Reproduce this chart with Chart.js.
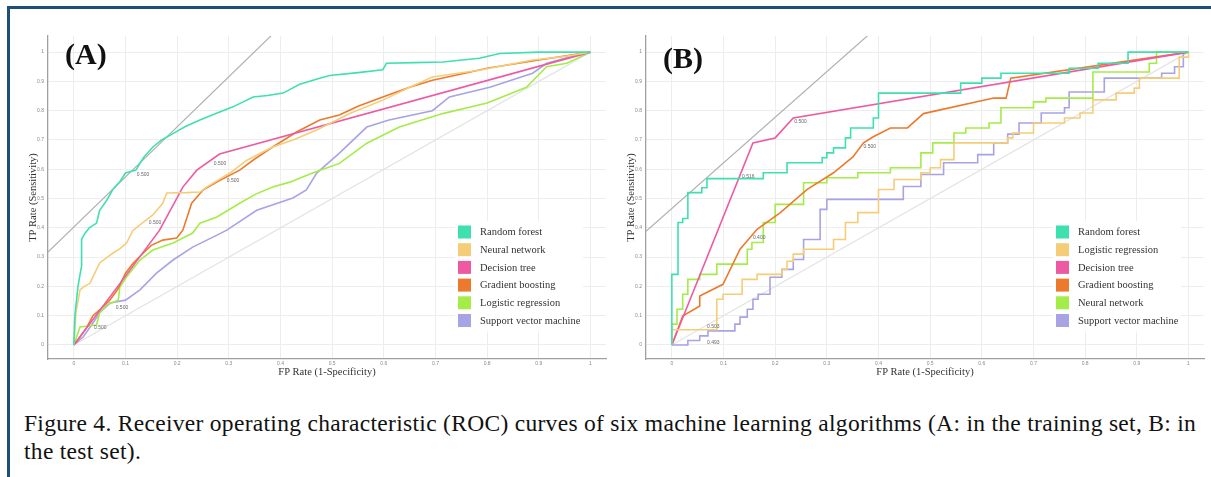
<!DOCTYPE html>
<html>
<head>
<meta charset="utf-8">
<script src="https://cdn.jsdelivr.net/npm/chart.js@4.4.1/dist/chart.umd.min.js"></script>
<style>
  html, body { margin: 0; padding: 0; background: #fff; }
  body { width: 1211px; height: 477px; position: relative; overflow: hidden; }
  .frame-top { position: absolute; left: 7px; top: 6px; width: 1204px; height: 3px; background: #1F4E79; }
  .frame-left { position: absolute; left: 7px; top: 6px; width: 3px; height: 471px; background: #1F4E79; }
  canvas { position: absolute; }
  #chartA { left: 10px; top: 10px; }
  #chartB { left: 608px; top: 10px; }
  .panel { position: absolute; font-family: 'Liberation Serif', 'Times New Roman', serif; font-weight: bold; font-size: 30px; line-height: 30px; color: #111; }
  .caption { position: absolute; left: 24px; top: 409px; font-family: 'Liberation Serif', 'Times New Roman', serif; font-size: 23.5px; letter-spacing: 0.3px; line-height: 28px; color: #111; white-space: nowrap; }
</style>
</head>
<body>
<div class="frame-top"></div>
<div class="frame-left"></div>
<canvas id="chartA" width="600" height="382"></canvas>
<canvas id="chartB" width="600" height="382"></canvas>
<div class="panel" style="left:65px; top:39px;">(A)</div>
<div class="panel" style="left:663px; top:43px;">(B)</div>
<div class="caption">Figure 4. Receiver operating characteristic (ROC) curves of six machine learning algorithms (A: in the training set, B: in<br>the test set).</div>

<script>
// ticks
const xTickVals = [0, 0.1, 0.2, 0.3, 0.4, 0.5, 0.6, 0.7, 0.8, 0.9, 1];
const yTickVals = [0, 0.1, 0.2, 0.3, 0.4, 0.5, 0.6, 0.7, 0.8, 0.9, 1];

// legend order (A: training set, B: test set)
const modelsA = ["Random forest", "Neural network", "Decision tree", "Gradient boosting", "Logistic regression", "Support vector machine"];
const modelsB = ["Random forest", "Logistic regression", "Decision tree", "Gradient boosting", "Neural network", "Support vector machine"];
const palette = ["#3FE0B0", "#F5CD78", "#EE5AA2", "#EC7A2C", "#A4EC48", "#A8A3E4"];

// ---- panel A: ROC points (FPR, TPR)
const rfA_fpr = [0, 0.002, 0.008, 0.015, 0.015, 0.021, 0.03, 0.044, 0.05, 0.064, 0.075, 0.09, 0.10, 0.12, 0.135, 0.153, 0.17, 0.19, 0.215, 0.244, 0.275, 0.308, 0.347, 0.375, 0.405, 0.437, 0.476, 0.495, 0.55, 0.598, 0.605, 0.66, 0.714, 0.785, 0.824, 0.9, 1];
const rfA_tpr = [0, 0.10, 0.20, 0.27, 0.36, 0.38, 0.40, 0.416, 0.46, 0.495, 0.53, 0.56, 0.587, 0.597, 0.64, 0.676, 0.70, 0.72, 0.745, 0.768, 0.79, 0.813, 0.847, 0.852, 0.86, 0.89, 0.911, 0.92, 0.93, 0.94, 0.962, 0.964, 0.966, 0.979, 0.995, 1, 1];

const nnA_fpr = [0, 0.002, 0.004, 0.012, 0.02, 0.031, 0.05, 0.065, 0.076, 0.09, 0.102, 0.114, 0.128, 0.153, 0.172, 0.18, 0.218, 0.244, 0.257, 0.302, 0.335, 0.385, 0.424, 0.47, 0.534, 0.598, 0.65, 0.694, 0.79, 0.888, 0.95, 1];
const nnA_tpr = [0, 0.05, 0.11, 0.188, 0.20, 0.21, 0.28, 0.30, 0.314, 0.33, 0.348, 0.39, 0.41, 0.444, 0.484, 0.519, 0.52, 0.522, 0.539, 0.587, 0.631, 0.676, 0.70, 0.734, 0.79, 0.836, 0.88, 0.915, 0.94, 0.973, 0.985, 1];

const dtA_fpr = [0, 0.1, 0.166, 0.211, 0.238, 0.282, 1];
const dtA_tpr = [0, 0.235, 0.392, 0.539, 0.597, 0.652, 1];

const gbA_fpr = [0, 0.012, 0.025, 0.037, 0.05, 0.07, 0.085, 0.1, 0.115, 0.134, 0.15, 0.172, 0.199, 0.211, 0.228, 0.25, 0.28, 0.321, 0.35, 0.385, 0.431, 0.476, 0.514, 0.55, 0.598, 0.65, 0.694, 0.75, 0.80, 0.90, 1];
const gbA_tpr = [0, 0.027, 0.06, 0.10, 0.12, 0.154, 0.19, 0.245, 0.28, 0.313, 0.34, 0.358, 0.365, 0.392, 0.484, 0.529, 0.56, 0.597, 0.635, 0.676, 0.727, 0.768, 0.785, 0.815, 0.847, 0.88, 0.904, 0.925, 0.945, 0.973, 1];

const lrA_fpr = [0, 0.012, 0.044, 0.05, 0.064, 0.086, 0.089, 0.102, 0.128, 0.153, 0.192, 0.23, 0.244, 0.277, 0.321, 0.352, 0.385, 0.418, 0.462, 0.514, 0.567, 0.63, 0.714, 0.80, 0.876, 0.915, 0.954, 1];
const lrA_tpr = [0, 0.061, 0.068, 0.11, 0.137, 0.153, 0.198, 0.232, 0.29, 0.324, 0.348, 0.382, 0.416, 0.437, 0.484, 0.515, 0.539, 0.556, 0.587, 0.62, 0.689, 0.744, 0.79, 0.826, 0.88, 0.95, 0.962, 1];

const svmA_fpr = [0, 0.018, 0.035, 0.05, 0.07, 0.10, 0.128, 0.16, 0.192, 0.23, 0.277, 0.296, 0.354, 0.424, 0.45, 0.47, 0.514, 0.567, 0.61, 0.694, 0.727, 0.805, 0.888, 0.915, 0.985, 1];
const svmA_tpr = [0, 0.027, 0.07, 0.11, 0.143, 0.153, 0.188, 0.245, 0.29, 0.334, 0.375, 0.392, 0.46, 0.502, 0.529, 0.587, 0.655, 0.744, 0.768, 0.80, 0.847, 0.88, 0.928, 0.962, 0.995, 1];

// tangent line at best cutoff + cutoff labels, panel A
const tanA_x = [-0.05, 0.40];
const tanA_y = [0.317, 1.087];
const cutA_x = [0.122, 0.145, 0.271, 0.296, 0.039, 0.081];
const cutA_y = [0.58, 0.416, 0.618, 0.56, 0.058, 0.126];
const cutA_text = ["0.500", "0.500", "0.500", "0.500", "0.500", "0.500"];

// ---- panel B: ROC points (FPR, TPR)
const rfB_fpr = [0, 0, 0.012, 0.012, 0.021, 0.021, 0.031, 0.031, 0.058, 0.058, 0.068, 0.068, 0.177, 0.177, 0.223, 0.223, 0.291, 0.291, 0.30, 0.30, 0.313, 0.313, 0.336, 0.336, 0.346, 0.346, 0.39, 0.39, 0.40, 0.40, 0.559, 0.559, 0.60, 0.60, 0.637, 0.637, 0.769, 0.769, 0.825, 0.825, 0.883, 0.883, 1];
const rfB_tpr = [0, 0.241, 0.241, 0.418, 0.418, 0.432, 0.432, 0.52, 0.52, 0.537, 0.537, 0.568, 0.568, 0.588, 0.588, 0.622, 0.622, 0.639, 0.639, 0.656, 0.656, 0.673, 0.673, 0.707, 0.707, 0.741, 0.741, 0.775, 0.775, 0.86, 0.86, 0.894, 0.894, 0.911, 0.911, 0.928, 0.928, 0.945, 0.945, 0.962, 0.962, 1, 1];

const lrB_fpr = [0, 0, 0.087, 0.087, 0.099, 0.099, 0.136, 0.136, 0.165, 0.165, 0.213, 0.213, 0.223, 0.223, 0.235, 0.235, 0.255, 0.255, 0.313, 0.313, 0.336, 0.336, 0.36, 0.36, 0.40, 0.40, 0.43, 0.43, 0.482, 0.482, 0.50, 0.50, 0.52, 0.52, 0.546, 0.546, 0.65, 0.65, 0.66, 0.66, 0.70, 0.70, 0.76, 0.76, 0.79, 0.79, 0.815, 0.815, 0.86, 0.86, 0.895, 0.895, 0.905, 0.905, 0.982, 0.982, 1, 1];
const lrB_tpr = [0, 0.052, 0.052, 0.156, 0.156, 0.173, 0.173, 0.224, 0.224, 0.241, 0.241, 0.258, 0.258, 0.286, 0.286, 0.31, 0.31, 0.327, 0.327, 0.36, 0.36, 0.418, 0.418, 0.452, 0.452, 0.531, 0.531, 0.565, 0.565, 0.588, 0.588, 0.605, 0.605, 0.633, 0.633, 0.69, 0.69, 0.707, 0.707, 0.724, 0.724, 0.758, 0.758, 0.775, 0.775, 0.792, 0.792, 0.837, 0.837, 0.86, 0.86, 0.877, 0.877, 0.911, 0.911, 0.983, 0.983, 1];

const dtB_fpr = [0, 0.157, 0.20, 0.235, 1];
const dtB_tpr = [0, 0.69, 0.707, 0.775, 1];

const gbB_fpr = [0, 0.021, 0.054, 0.054, 0.099, 0.132, 0.165, 0.21, 0.262, 0.313, 0.351, 0.371, 0.39, 0.423, 0.456, 0.487, 0.623, 0.647, 0.656, 1];
const gbB_tpr = [0, 0.099, 0.133, 0.167, 0.207, 0.327, 0.395, 0.452, 0.531, 0.588, 0.643, 0.69, 0.711, 0.741, 0.741, 0.79, 0.843, 0.843, 0.911, 1];

const nnB_fpr = [0, 0, 0.01, 0.01, 0.021, 0.021, 0.031, 0.031, 0.054, 0.054, 0.087, 0.087, 0.146, 0.146, 0.155, 0.155, 0.177, 0.177, 0.20, 0.20, 0.255, 0.255, 0.30, 0.30, 0.36, 0.36, 0.423, 0.423, 0.482, 0.482, 0.505, 0.505, 0.546, 0.546, 0.569, 0.569, 0.614, 0.614, 0.637, 0.637, 0.70, 0.70, 0.724, 0.724, 0.815, 0.815, 0.924, 0.924, 0.938, 0.938, 1];
const nnB_tpr = [0, 0.071, 0.071, 0.122, 0.122, 0.173, 0.173, 0.224, 0.224, 0.241, 0.241, 0.276, 0.276, 0.327, 0.327, 0.35, 0.35, 0.418, 0.418, 0.48, 0.48, 0.554, 0.554, 0.571, 0.571, 0.588, 0.588, 0.605, 0.605, 0.656, 0.656, 0.69, 0.69, 0.724, 0.724, 0.741, 0.741, 0.758, 0.758, 0.81, 0.81, 0.83, 0.83, 0.843, 0.843, 0.932, 0.932, 0.962, 0.962, 1, 1];

const svmB_fpr = [0, 0.031, 0.031, 0.054, 0.054, 0.07, 0.07, 0.122, 0.122, 0.132, 0.132, 0.146, 0.146, 0.157, 0.157, 0.167, 0.167, 0.19, 0.19, 0.213, 0.213, 0.235, 0.235, 0.255, 0.255, 0.287, 0.287, 0.30, 0.30, 0.448, 0.448, 0.482, 0.482, 0.526, 0.526, 0.592, 0.592, 0.623, 0.623, 0.65, 0.65, 0.672, 0.672, 0.715, 0.715, 0.76, 0.76, 0.769, 0.769, 0.837, 0.837, 0.948, 0.948, 0.973, 0.973, 0.99, 0.99, 1];
const svmB_tpr = [0, 0, 0.015, 0.015, 0.031, 0.031, 0.048, 0.048, 0.071, 0.071, 0.095, 0.095, 0.122, 0.122, 0.156, 0.156, 0.173, 0.173, 0.231, 0.231, 0.258, 0.258, 0.292, 0.292, 0.36, 0.36, 0.463, 0.463, 0.497, 0.497, 0.541, 0.541, 0.582, 0.582, 0.622, 0.622, 0.65, 0.65, 0.69, 0.69, 0.72, 0.72, 0.758, 0.758, 0.792, 0.792, 0.81, 0.81, 0.864, 0.864, 0.911, 0.911, 0.928, 0.928, 0.95, 0.95, 1, 1];

const tanB_x = [-0.05, 0.40];
const tanB_y = [0.388, 1.089];
const cutB_x = [0.136, 0.068, 0.237, 0.371, 0.157, 0.068];
const cutB_y = [0.575, 0.061, 0.762, 0.677, 0.367, 0.007];
const cutB_text = ["0.516", "0.503", "0.500", "0.500", "0.400", "0.493"];

// chance line
const diag_x = [0, 1];
const diag_y = [0, 1];

const toPoints = (xs, ys) => xs.map((x, i) => ({ x: x, y: ys[i] }));

const overlayPlugin = {
    id: "overlay",
    afterDatasetsDraw(chart, args, opts) {
        const { ctx, chartArea } = chart;
        const xs = chart.scales.x, ys = chart.scales.y;
        ctx.save();
        // cutoff values next to the curves
        ctx.font = '5px "Liberation Sans"';
        ctx.fillStyle = "#666";
        ctx.textBaseline = "middle";
        ctx.textAlign = "left";
        opts.cutX.forEach((cx, i) => {
            ctx.fillText(opts.cutText[i], xs.getPixelForValue(cx), ys.getPixelForValue(opts.cutY[i]));
        });
        // legend inside the plot
        const items = chart.data.datasets.filter(d => d.inLegend);
        const lx = chartArea.left + 410, ly = chartArea.top + 196, step = 17.7;
        ctx.fillStyle = "#fff";
        ctx.fillRect(lx - 3, ly - 11, 128, step * (items.length - 1) + 22);
        ctx.font = '10.5px "Liberation Serif"';
        items.forEach((d, i) => {
            const cy = ly + i * step;
            ctx.fillStyle = d.borderColor;
            ctx.fillRect(lx, cy - 6.5, 13, 13);
            ctx.fillStyle = "#333";
            ctx.fillText(d.label, lx + 22, cy + 0.5);
        });
        ctx.restore();
    }
};

function buildChart(id, names, fprs, tprs, tanX, tanY, cutX, cutY, cutText) {
    const datasets = names.map((n, i) => ({
        label: n,
        data: toPoints(fprs[i], tprs[i]),
        borderColor: palette[i],
        backgroundColor: palette[i],
        borderWidth: 1.6,
        showLine: true,
        pointRadius: 0,
        tension: 0,
        inLegend: true,
        order: i
    }));
    datasets.push({ label: "tangent", data: toPoints(tanX, tanY), borderColor: "#b0b0b0", borderWidth: 1.2, showLine: true, pointRadius: 0, order: 19 });
    datasets.push({ label: "chance", data: toPoints(diag_x, diag_y), borderColor: "#e4e4e4", borderWidth: 1.2, showLine: true, pointRadius: 0, order: 20 });

    const tickFont = { family: "Liberation Sans", size: 5 };
    const titleFont = { family: "Liberation Serif", size: 10.5 };

    return new Chart(document.getElementById(id), {
        type: "scatter",
        data: { datasets: datasets },
        options: {
            responsive: false,
            animation: false,
            devicePixelRatio: 1,
            layout: { padding: { left: 0, top: 26, right: 4, bottom: 0 } },
            plugins: {
                legend: { display: false },
                tooltip: { enabled: false },
                overlay: { cutX: cutX, cutY: cutY, cutText: cutText }
            },
            scales: {
                x: {
                    type: "linear",
                    min: -0.05,
                    max: 1.03,
                    afterBuildTicks: s => { s.ticks = xTickVals.map(v => ({ value: v })); },
                    afterFit: s => { s.height = 33; },
                    ticks: { font: tickFont, color: "#888", padding: 2, maxRotation: 0, callback: v => String(v) },
                    grid: { color: "#ededed", drawTicks: false },
                    border: { display: true, color: "#a0a0a0", width: 1.3 },
                    title: { display: true, text: "FP Rate (1-Specificity)", font: titleFont, color: "#333", padding: { top: 0, bottom: 13 } }
                },
                y: {
                    type: "linear",
                    min: -0.048,
                    max: 1.055,
                    afterBuildTicks: s => { s.ticks = yTickVals.map(v => ({ value: v })); },
                    afterFit: s => { s.width = 38; },
                    ticks: { font: tickFont, color: "#888", padding: 4, callback: v => String(v) },
                    grid: { color: "#ededed", drawTicks: false },
                    border: { display: true, color: "#a0a0a0", width: 1.3 },
                    title: { display: true, text: "TP Rate (Sensitivity)", font: titleFont, color: "#333", padding: { top: 17, bottom: 0 } }
                }
            }
        },
        plugins: [overlayPlugin]
    });
}

buildChart("chartA", modelsA,
    [rfA_fpr, nnA_fpr, dtA_fpr, gbA_fpr, lrA_fpr, svmA_fpr],
    [rfA_tpr, nnA_tpr, dtA_tpr, gbA_tpr, lrA_tpr, svmA_tpr],
    tanA_x, tanA_y, cutA_x, cutA_y, cutA_text);

buildChart("chartB", modelsB,
    [rfB_fpr, lrB_fpr, dtB_fpr, gbB_fpr, nnB_fpr, svmB_fpr],
    [rfB_tpr, lrB_tpr, dtB_tpr, gbB_tpr, nnB_tpr, svmB_tpr],
    tanB_x, tanB_y, cutB_x, cutB_y, cutB_text);
</script>
</body>
</html>
